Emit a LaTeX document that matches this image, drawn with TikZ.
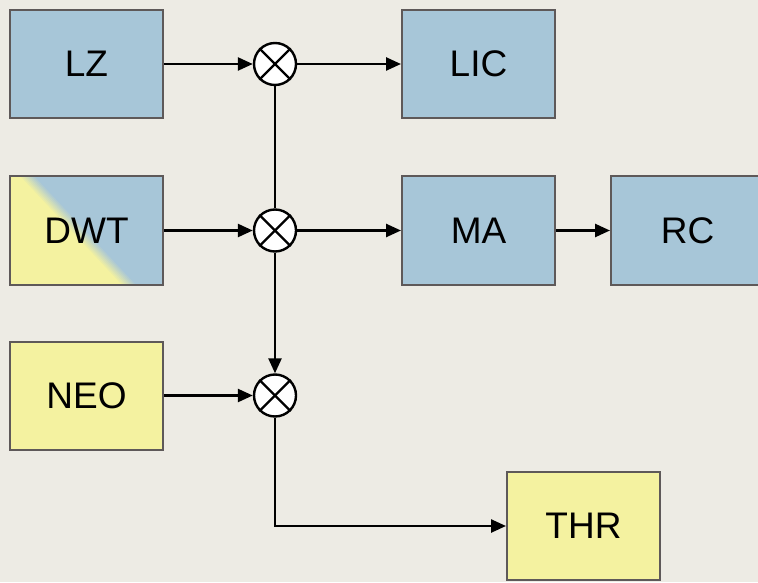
\documentclass[tikz,border=0pt]{standalone}
\usepackage{fontspec}
\setmainfont{Liberation Sans}
\usepackage{xcolor}
\usepackage{tikz}
\usetikzlibrary{arrows.meta, positioning}
\definecolor{bleu}{HTML}{A7C6D8}
\definecolor{jaune}{HTML}{F4F2A0}
\definecolor{fond}{HTML}{EDEBE4}
\definecolor{bord}{HTML}{5E5959}
\tikzset{
  bloc/.style={rectangle, draw=bord, line width=1pt, text=black,
    font=\fontsize{18.5}{22}\selectfont, minimum width=76.5pt,
    minimum height=54pt, inner sep=0pt},
  blocb/.style={bloc, fill=bleu},
  blocj/.style={bloc, fill=jaune},
  mult/.style={circle, draw=black, fill=white, line width=1.2pt,
    minimum size=21pt, inner sep=0pt},
  fleche/.style={-{Triangle[length=7.5pt, width=6.5pt]}, line width=1.25pt},
  lien/.style={line width=1.25pt}
}

\begin{document}
\begin{tikzpicture}[x=0.5pt, y=-0.5pt]
    \useasboundingbox (0,0) rectangle (758,582);
    \clip (0,0) rectangle (758,582);
    \fill[fond] (0,0) rectangle (758,582);

    % degrade jaune/bleu du bloc DWT
    \fill[bleu] (10,176) rectangle (163,285);
    \foreach \i in {8,...,0} {
      \pgfmathsetmacro{\pc}{100-12.5*\i}
      \fill[jaune!\pc!bleu] (10,176) -- ({20+2*\i},176) -- ({122+2*\i},285) -- (10,285) -- cycle;
    }

    \node[blocb] (lz) at (86.5,64) {LZ};
    \node[bloc] (dwt) at (86.5,230.5) {DWT};
    \node[blocj] (neo) at (86.5,395.5) {NEO};

    \node[mult] (mul1) at (275,64) {};
    \node[mult] (mul2) at (275,230.5) {};
    \node[mult] (mul3) at (275,395.5) {};
    \foreach \m in {mul1, mul2, mul3} {
      \draw[line width=1.2pt] (\m.north west) -- (\m.south east);
      \draw[line width=1.2pt] (\m.north east) -- (\m.south west);
    }

    \node[blocb] (lic) at (478.5,64) {LIC};
    \node[blocb] (ma) at (478.5,230.5) {MA};
    \node[blocb, right=27pt of ma] (rc) {RC};
    \node[blocj] (thr) at (583.5,526) {THR};

    \draw[fleche] (lz) -- (mul1);
    \draw[fleche] (mul1) -- (lic);
    \draw[lien] (mul1) -- (mul2);
    \draw[fleche] (dwt) -- (mul2);
    \draw[fleche] (mul2) -- (ma);
    \draw[fleche] (ma) -- (rc);
    \draw[fleche] (mul2) -- (mul3);
    \draw[fleche] (neo) -- (mul3);
    \draw[fleche] (mul3) |- (thr);
  \end{tikzpicture}
\end{document}
